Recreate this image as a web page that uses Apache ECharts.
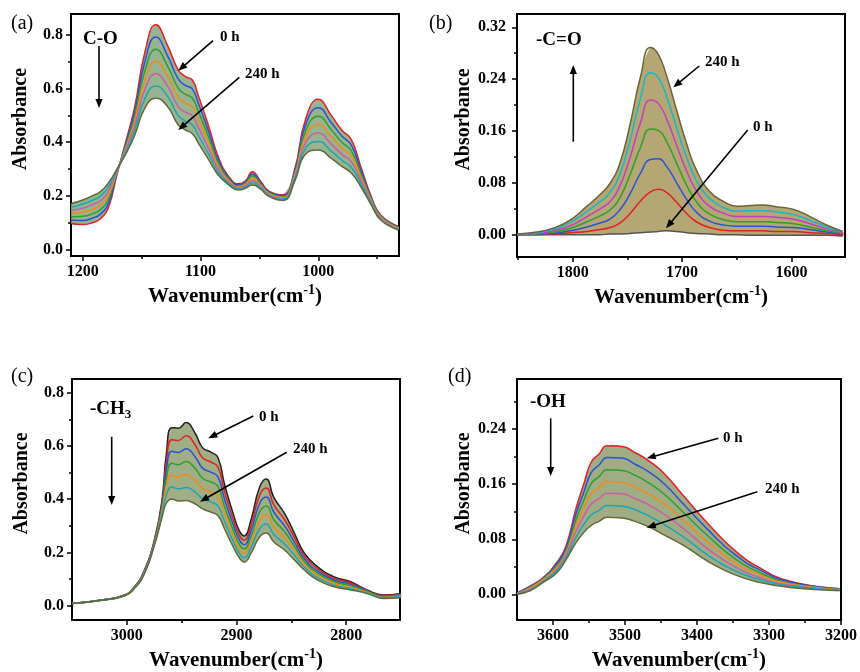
<!DOCTYPE html>
<html>
<head>
<meta charset="utf-8">
<script src="https://cdn.jsdelivr.net/npm/echarts@6.0.0/dist/echarts.min.js"></script>
<style>html,body{margin:0;padding:0;background:#fff}#c{width:860px;height:672px}</style>
</head>
<body>
<div id="c"></div>
<script>
// ---------------- DATA ----------------
// Series times (h)
const hours = [0, 40, 80, 120, 160, 200, 240];

// Panel (a) C-O
const wnA = [1210,1200,1192,1185,1178,1171,1163,1156,1147,1138,1128,1119,1113,1107,1102,1093,1085,1076,1068,1062,1056,1049,1042,1030,1020,1011,1000,989,980,972,964,955,947,932];
const a0h   = [0.098,0.093,0.100,0.115,0.160,0.280,0.410,0.530,0.740,0.838,0.760,0.670,0.645,0.632,0.575,0.458,0.346,0.272,0.245,0.255,0.290,0.255,0.218,0.204,0.300,0.483,0.560,0.500,0.445,0.410,0.310,0.197,0.129,0.086];
const a40h  = [0.110,0.108,0.117,0.132,0.175,0.283,0.402,0.513,0.705,0.792,0.722,0.636,0.612,0.599,0.546,0.437,0.335,0.267,0.241,0.251,0.282,0.250,0.215,0.201,0.293,0.462,0.529,0.473,0.423,0.389,0.298,0.192,0.126,0.084];
const a80h  = [0.122,0.124,0.133,0.149,0.190,0.287,0.393,0.495,0.670,0.747,0.684,0.602,0.579,0.565,0.516,0.417,0.323,0.262,0.237,0.246,0.274,0.245,0.211,0.197,0.285,0.440,0.497,0.447,0.400,0.368,0.285,0.187,0.123,0.082];
const a120h = [0.134,0.139,0.150,0.166,0.205,0.290,0.385,0.478,0.635,0.701,0.647,0.568,0.546,0.532,0.487,0.396,0.312,0.257,0.234,0.242,0.266,0.240,0.208,0.194,0.278,0.419,0.466,0.420,0.378,0.348,0.273,0.182,0.120,0.080];
const a160h = [0.146,0.154,0.167,0.182,0.220,0.293,0.377,0.460,0.600,0.655,0.609,0.533,0.512,0.499,0.457,0.375,0.301,0.251,0.230,0.237,0.257,0.235,0.205,0.190,0.270,0.398,0.434,0.393,0.355,0.327,0.260,0.176,0.116,0.077];
const a200h = [0.158,0.170,0.183,0.199,0.235,0.297,0.368,0.443,0.565,0.610,0.571,0.499,0.479,0.465,0.427,0.355,0.289,0.246,0.226,0.233,0.249,0.230,0.201,0.187,0.263,0.376,0.403,0.367,0.333,0.306,0.248,0.171,0.113,0.075];
const a240h = [0.170,0.185,0.200,0.216,0.250,0.300,0.360,0.425,0.530,0.564,0.533,0.465,0.446,0.432,0.398,0.334,0.278,0.241,0.222,0.228,0.241,0.225,0.198,0.183,0.255,0.355,0.371,0.340,0.310,0.285,0.235,0.166,0.110,0.073];

// Panel (b) -C=O
const wnB = [1851,1833,1818,1802,1787,1775,1766,1757,1748,1738,1729,1722,1714,1705,1696,1687,1675,1662,1650,1638,1626,1614,1598,1583,1568,1553];
const b0h   = [0.000,0.000,0.000,0.000,0.000,0.000,0.001,0.001,0.002,0.003,0.004,0.005,0.006,0.005,0.003,0.002,0.001,0.000,0.000,-0.001,-0.001,-0.001,-0.001,-0.001,-0.001,-0.002];
const b40h  = [0.000,0.000,0.001,0.003,0.005,0.008,0.011,0.018,0.032,0.052,0.066,0.070,0.065,0.050,0.033,0.020,0.011,0.007,0.006,0.006,0.006,0.005,0.005,0.003,0.002,0.000];
const b80h  = [0.000,0.001,0.002,0.006,0.012,0.018,0.024,0.038,0.062,0.095,0.116,0.117,0.105,0.080,0.055,0.035,0.021,0.015,0.013,0.013,0.013,0.012,0.011,0.008,0.004,0.001];
const b120h = [0.000,0.001,0.004,0.010,0.020,0.029,0.038,0.057,0.091,0.135,0.163,0.161,0.143,0.110,0.077,0.051,0.032,0.023,0.020,0.020,0.020,0.019,0.017,0.012,0.006,0.002];
const b160h = [0.000,0.002,0.006,0.014,0.028,0.040,0.051,0.075,0.117,0.173,0.208,0.203,0.178,0.138,0.099,0.068,0.044,0.033,0.028,0.028,0.028,0.027,0.024,0.017,0.009,0.003];
const b200h = [0.001,0.003,0.008,0.019,0.036,0.051,0.065,0.093,0.143,0.211,0.250,0.243,0.212,0.165,0.120,0.084,0.056,0.042,0.036,0.037,0.037,0.035,0.031,0.022,0.012,0.004];
const b240h = [0.001,0.004,0.010,0.023,0.044,0.062,0.079,0.110,0.167,0.244,0.289,0.279,0.244,0.192,0.141,0.100,0.067,0.051,0.044,0.045,0.046,0.043,0.039,0.028,0.015,0.005];

// Panel (c) -CH3
const wnC = [3050,3023,3002,2993,2984,2975,2968,2964,2959,2953,2946,2938,2931,2923,2917,2911,2903,2897,2893,2887,2879,2873,2866,2856,2847,2838,2826,2811,2796,2781,2766,2750];
const c0h   = [0.008,0.021,0.040,0.071,0.133,0.245,0.395,0.570,0.669,0.667,0.688,0.650,0.594,0.576,0.557,0.457,0.345,0.277,0.262,0.320,0.445,0.476,0.407,0.345,0.270,0.196,0.146,0.108,0.090,0.059,0.040,0.046];
const c40h  = [0.008,0.021,0.040,0.070,0.131,0.242,0.384,0.539,0.624,0.621,0.639,0.606,0.556,0.539,0.521,0.429,0.324,0.260,0.246,0.299,0.414,0.442,0.379,0.322,0.254,0.186,0.138,0.102,0.085,0.057,0.038,0.044];
const c80h  = [0.008,0.021,0.039,0.069,0.129,0.238,0.373,0.508,0.580,0.576,0.590,0.561,0.517,0.501,0.484,0.401,0.304,0.244,0.229,0.279,0.383,0.408,0.351,0.299,0.237,0.175,0.129,0.096,0.080,0.055,0.036,0.041];
const c120h = [0.008,0.020,0.038,0.068,0.126,0.235,0.363,0.478,0.535,0.530,0.542,0.517,0.479,0.464,0.448,0.373,0.283,0.227,0.213,0.258,0.352,0.375,0.323,0.277,0.221,0.165,0.121,0.090,0.075,0.053,0.034,0.039];
const c160h = [0.008,0.020,0.038,0.067,0.124,0.232,0.352,0.447,0.490,0.484,0.493,0.472,0.441,0.426,0.412,0.345,0.262,0.210,0.197,0.237,0.320,0.341,0.295,0.254,0.204,0.154,0.113,0.083,0.069,0.050,0.031,0.036];
const c200h = [0.008,0.020,0.037,0.066,0.122,0.228,0.341,0.416,0.446,0.439,0.444,0.428,0.402,0.389,0.375,0.317,0.242,0.194,0.180,0.217,0.289,0.307,0.267,0.231,0.188,0.144,0.104,0.077,0.064,0.048,0.029,0.034];
const c240h = [0.008,0.020,0.037,0.065,0.120,0.225,0.330,0.385,0.401,0.393,0.395,0.383,0.364,0.351,0.339,0.289,0.221,0.177,0.164,0.196,0.258,0.273,0.239,0.208,0.171,0.133,0.096,0.071,0.059,0.046,0.027,0.031];

// Panel (d) -OH
const wnD = [3650,3632,3614,3595,3582,3568,3557,3547,3536,3525,3504,3486,3467,3445,3417,3385,3349,3312,3271,3202];
const d0h   = [0.002,0.012,0.024,0.046,0.070,0.125,0.161,0.192,0.204,0.216,0.215,0.206,0.194,0.175,0.141,0.103,0.065,0.038,0.019,0.008];
const d40h  = [0.002,0.011,0.023,0.044,0.067,0.117,0.149,0.177,0.188,0.199,0.198,0.189,0.178,0.160,0.129,0.094,0.059,0.035,0.018,0.008];
const d80h  = [0.001,0.010,0.022,0.041,0.063,0.108,0.137,0.161,0.171,0.181,0.180,0.173,0.162,0.145,0.117,0.085,0.053,0.031,0.016,0.007];
const d120h = [0.001,0.009,0.021,0.039,0.060,0.100,0.126,0.146,0.155,0.164,0.163,0.156,0.146,0.131,0.106,0.076,0.047,0.028,0.015,0.007];
const d160h = [0.001,0.007,0.019,0.036,0.057,0.092,0.114,0.131,0.139,0.147,0.146,0.139,0.130,0.116,0.094,0.066,0.041,0.024,0.013,0.006];
const d200h = [0.000,0.006,0.018,0.034,0.053,0.083,0.102,0.115,0.122,0.129,0.128,0.123,0.114,0.101,0.082,0.057,0.035,0.021,0.012,0.006];
const d240h = [0.000,0.005,0.017,0.031,0.050,0.075,0.090,0.100,0.106,0.112,0.111,0.106,0.098,0.086,0.070,0.048,0.029,0.017,0.010,0.005];

// Tick labels
const xTicksA = [1200, 1100, 1000];       const xMinorA = [1150, 1050, 950];
const xTicksB = [1800, 1700, 1600];       const xMinorB = [1850, 1750, 1650];
const xTicksC = [3000, 2900, 2800];       const xMinorC = [2950, 2850];
const xTicksD = [3600, 3500, 3400, 3300, 3200]; const xMinorD = [3550, 3450, 3350, 3250];
const yTicksA = [0, 0.2, 0.4, 0.6, 0.8];  const yMinorA = [0.1, 0.3, 0.5, 0.7];
const yTicksB = [0, 0.08, 0.16, 0.24, 0.32]; const yMinorB = [0.04, 0.12, 0.20, 0.28];
const yTicksC = [0, 0.2, 0.4, 0.6, 0.8];  const yMinorC = [0.1, 0.3, 0.5, 0.7];
const yTicksD = [0, 0.08, 0.16, 0.24];    const yMinorD = [0.04, 0.12, 0.20, 0.28];

// ---------------- CHART ----------------
const FONT = "'Liberation Serif','Times New Roman',serif";
const panels = [
  { wn: wnA, curves: [a0h,a40h,a80h,a120h,a160h,a200h,a240h],
    colors: ['#e41f26','#2a52d6','#2ca02c','#f08c1a','#d05ca4','#1aa6b7','#5f6b3a'], fill: '#85a67c',
    x: {min: 931.5, max: 1210, major: xTicksA, minor: xMinorA},
    y: {min: -0.024, max: 0.878, major: yTicksA, minor: yMinorA, dec: 1, margin: 8},
    grid: {left: 71, top: 14, width: 328, height: 242} },
  { wn: wnB, curves: [b0h,b40h,b80h,b120h,b160h,b200h,b240h],
    colors: ['#555555','#e41f26','#2a52d6','#2ca02c','#c040c0','#19b6c9','#6a6436'], fill: '#a8985a',
    x: {min: 1551, max: 1851, major: xTicksB, minor: xMinorB},
    y: {min: -0.0344, max: 0.3405, major: yTicksB, minor: yMinorB, dec: 2, margin: 11},
    grid: {left: 517, top: 14, width: 328, height: 243} },
  { wn: wnC, curves: [c0h,c40h,c80h,c120h,c160h,c200h,c240h],
    colors: ['#222222','#e41f26','#2a52d6','#2ca02c','#f08c1a','#1aa6b7','#5f6b3a'], fill: '#8ea070',
    x: {min: 2751, max: 3050, major: xTicksC, minor: xMinorC},
    y: {min: -0.054, max: 0.852, major: yTicksC, minor: yMinorC, dec: 1, margin: 8},
    grid: {left: 72, top: 379, width: 328, height: 243} },
  { wn: wnD, curves: [d0h,d40h,d80h,d120h,d160h,d200h,d240h],
    colors: ['#e41f26','#2a52d6','#2ca02c','#f08c1a','#d05ca4','#1aa6b7','#5f6b3a'], fill: '#8e9e6e',
    x: {min: 3200, max: 3650, major: xTicksD, minor: xMinorD},
    y: {min: -0.0374, max: 0.313, major: yTicksD, minor: yMinorD, dec: 2, margin: 11},
    grid: {left: 517, top: 379, width: 328, height: 244} }
];

const grids = [], xAxes = [], yAxes = [], series = [];
const tickStyle = {color: '#000', width: 1.5};
panels.forEach((p, i) => {
  grids.push(Object.assign({show: true, borderColor: '#000', borderWidth: 2, backgroundColor: 'transparent'}, p.grid));
  xAxes.push({
    gridIndex: i, type: 'value', inverse: true, min: p.x.min, max: p.x.max, position: 'bottom',
    axisLine: {show: true, onZero: false, lineStyle: {color: '#000', width: 2}},
    axisTick: {show: true, inside: false, length: 5, lineStyle: tickStyle, customValues: p.x.major},
    axisLabel: {show: true, customValues: p.x.major, margin: 8, color: '#000', fontFamily: FONT, fontWeight: 'bold', fontSize: 16, formatter: v => String(v)},
    splitLine: {show: false},
    name: '{n|Wavenumber(cm}{s|-1}{n|)}', nameLocation: 'middle', nameGap: 27,
    nameTextStyle: {rich: {
      n: {fontFamily: FONT, fontWeight: 'bold', fontSize: 21, color: '#000', lineHeight: 27},
      s: {fontFamily: FONT, fontWeight: 'bold', fontSize: 14, color: '#000', verticalAlign: 'top', lineHeight: 14}
    }}
  });
  xAxes.push({
    gridIndex: i, type: 'value', inverse: true, min: p.x.min, max: p.x.max, position: 'bottom',
    axisLine: {show: false, onZero: false}, axisLabel: {show: false}, splitLine: {show: false},
    axisTick: {show: true, inside: false, length: 3, lineStyle: tickStyle, customValues: p.x.minor}
  });
  yAxes.push({
    gridIndex: i, type: 'value', min: p.y.min, max: p.y.max, position: 'left',
    axisLine: {show: true, onZero: false, lineStyle: {color: '#000', width: 2}},
    axisTick: {show: true, inside: false, length: 5, lineStyle: tickStyle, customValues: p.y.major},
    axisLabel: {show: true, customValues: p.y.major, margin: p.y.margin, color: '#000', fontFamily: FONT, fontWeight: 'bold', fontSize: 16, formatter: v => v.toFixed(p.y.dec)},
    splitLine: {show: false},
    name: 'Absorbance', nameLocation: 'middle', nameGap: 40,
    nameTextStyle: {fontFamily: FONT, fontWeight: 'bold', fontSize: 20, color: '#000', padding: [0, 0, 0, 32]}
  });
  yAxes.push({
    gridIndex: i, type: 'value', min: p.y.min, max: p.y.max, position: 'left',
    axisLine: {show: false, onZero: false}, axisLabel: {show: false}, splitLine: {show: false},
    axisTick: {show: true, inside: false, length: 3, lineStyle: tickStyle, customValues: p.y.minor}
  });
  const first = p.curves[0], last = p.curves[p.curves.length - 1];
  series.push({
    type: 'custom', xAxisIndex: 2 * i, yAxisIndex: 2 * i, silent: true, z: 1, data: [0],
    renderItem: (params, api) => {
      const pts = [];
      for (let k = 0; k < p.wn.length; k++) pts.push(api.coord([p.wn[k], first[k]]));
      for (let k = p.wn.length - 1; k >= 0; k--) pts.push(api.coord([p.wn[k], last[k]]));
      return {type: 'polygon', shape: {points: pts, smooth: 0.4}, style: {fill: p.fill, opacity: 0.85},
        clipPath: {type: 'rect', shape: {x: params.coordSys.x, y: params.coordSys.y, width: params.coordSys.width, height: params.coordSys.height}}};
    }
  });
  p.curves.forEach((vals, j) => {
    series.push({
      name: hours[j] + ' h', type: 'line', xAxisIndex: 2 * i, yAxisIndex: 2 * i, z: 3,
      data: p.wn.map((w, k) => [w, vals[k]]),
      smooth: 0.5, showSymbol: false, symbol: 'none',
      lineStyle: {color: p.colors[j], width: 1.5}, silent: true
    });
  });
});

// ---------------- ANNOTATIONS ----------------
function arrow(x1, y1, x2, y2) {
  const dx = x2 - x1, dy = y2 - y1, L = Math.hypot(dx, dy), ux = dx / L, uy = dy / L;
  const hl = 9, hw = 3.6;
  const bx = x2 - ux * hl, by = y2 - uy * hl;
  return [
    {type: 'line', shape: {x1: x1, y1: y1, x2: bx + ux * 2, y2: by + uy * 2}, style: {stroke: '#000', lineWidth: 1.6}, z: 10},
    {type: 'polygon', shape: {points: [[x2, y2], [bx - uy * hw, by + ux * hw], [bx + uy * hw, by - ux * hw]]}, style: {fill: '#000'}, z: 10}
  ];
}
function txt(x, y, text, size, bold, rich) {
  const st = {text: text, fill: '#000', font: (bold ? 'bold ' : '') + size + 'px ' + FONT, align: 'left', verticalAlign: 'middle'};
  if (rich) st.rich = rich;
  return {type: 'text', x: x, y: y, style: st, z: 10};
}
const graphics = [
  txt(11, 24, '(a)', 20, false), txt(429, 24, '(b)', 20, false), txt(11, 377, '(c)', 20, false), txt(448, 377, '(d)', 20, false),
  txt(83, 39, 'C-O', 19, true), ...arrow(99, 46, 99, 108),
  txt(220, 37, '0 h', 15, true), ...arrow(213, 40.7, 178.3, 70.7),
  txt(245, 74, '240 h', 15, true), ...arrow(239.3, 77.3, 178.3, 130),
  txt(536, 40, '-C=O', 19, true), ...arrow(573.3, 141.7, 573.3, 65),
  txt(705, 62.5, '240 h', 15, true), ...arrow(699.3, 66, 673.3, 87.3),
  txt(753, 127.5, '0 h', 15, true), ...arrow(747.7, 130, 666, 228.3),
  txt(90, 409, '{a|-CH}{b|3}', 19, true, {a: {font: 'bold 19px ' + FONT, fill: '#000', lineHeight: 24}, b: {font: 'bold 13px ' + FONT, fill: '#000', verticalAlign: 'bottom', lineHeight: 13}}),
  ...arrow(111.7, 436.7, 111.7, 505),
  txt(259, 417, '0 h', 15, true), ...arrow(253.3, 416, 208.3, 438.3),
  txt(293, 449.5, '240 h', 15, true), ...arrow(286.7, 452.3, 200, 501.7),
  txt(530, 402.5, '-OH', 19, true), ...arrow(550.7, 418.3, 550.7, 476),
  txt(723, 438, '0 h', 15, true), ...arrow(718.3, 438.3, 646.7, 458.3),
  txt(765, 489, '240 h', 15, true), ...arrow(757.3, 491.7, 646.7, 527.7)
];

const chart = echarts.init(document.getElementById('c'), null, {renderer: 'canvas'});
chart.setOption({
  animation: false,
  backgroundColor: '#fff',
  grid: grids, xAxis: xAxes, yAxis: yAxes, series: series,
  graphic: graphics
});
</script>
</body>
</html>
